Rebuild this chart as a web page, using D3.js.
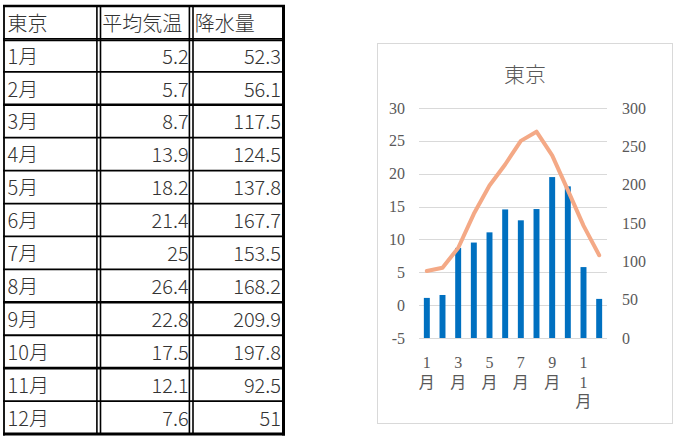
<!DOCTYPE html>
<html>
<head>
<meta charset="utf-8">
<script src="https://cdn.jsdelivr.net/npm/d3@7"></script>
<style>
  html, body { margin: 0; padding: 0; background: #fff; }
  svg { display: block; }
</style>
</head>
<body>
<div id="container"></div>
<script>
/* DATA */
const tableHeader = ["東京", "平均気温", "降水量"];
const months = ["1月", "2月", "3月", "4月", "5月", "6月", "7月", "8月", "9月", "10月", "11月", "12月"];
const temps = [5.2, 5.7, 8.7, 13.9, 18.2, 21.4, 25, 26.4, 22.8, 17.5, 12.1, 7.6];
const rain = [52.3, 56.1, 117.5, 124.5, 137.8, 167.7, 153.5, 168.2, 209.9, 197.8, 92.5, 51];
const tempTicks = [-5, 0, 5, 10, 15, 20, 25, 30];
const rainTicks = [0, 50, 100, 150, 200, 250, 300];
const chartTitle = "東京";

/* CONSTANTS */
const width = 678, height = 441;
const tableFont = "'Noto Sans CJK JP', 'Noto Sans', sans-serif";
const chartFont = "'Liberation Serif', 'Noto Sans CJK JP', serif";
const grey = "#595959";

const svg = d3.select("#container")
  .append("svg")
  .attr("width", width)
  .attr("height", height);

svg.append("rect")
  .attr("width", width)
  .attr("height", height)
  .attr("fill", "#fff");

/* TABLE */
const rows = [tableHeader].concat(months.map((m, i) => [m, String(temps[i]), String(rain[i])]));

const rowY = d3.scaleLinear().domain([0, rows.length]).range([6, 434]);
const colX = [4, 98.7, 191.2, 283.5];
const thickRows = [0, 3, 9, 11];

const table = svg.append("g").attr("class", "table");

// horizontal rules
table.selectAll(".hline")
  .data(d3.range(rows.length + 1))
  .join("line")
  .attr("class", "hline")
  .attr("x1", colX[0] - 1)
  .attr("x2", colX[3] + 1.5)
  .attr("y1", d => rowY(d))
  .attr("y2", d => rowY(d))
  .attr("stroke", "#000")
  .attr("stroke-width", d => d === rows.length ? 3 : (thickRows.includes(d) ? 2.6 : 1.8));

// header double rule
table.append("line")
  .attr("x1", colX[0] - 1).attr("x2", colX[3] + 1.5)
  .attr("y1", rowY(1) + 1.6).attr("y2", rowY(1) + 1.6)
  .attr("stroke", "#000").attr("stroke-width", 1.4);

// outer left and right borders
table.append("line")
  .attr("x1", colX[0]).attr("x2", colX[0])
  .attr("y1", rowY(0)).attr("y2", rowY(rows.length) + 1.5)
  .attr("stroke", "#000").attr("stroke-width", 1.8);

table.append("line")
  .attr("x1", colX[3]).attr("x2", colX[3])
  .attr("y1", rowY(0)).attr("y2", rowY(rows.length) + 1.5)
  .attr("stroke", "#000").attr("stroke-width", 3);

// double column dividers
[colX[1], colX[2]].forEach(x => {
  [-1.8, 1.8].forEach(off => {
    table.append("line")
      .attr("x1", x + off).attr("x2", x + off)
      .attr("y1", rowY(0)).attr("y2", rowY(rows.length))
      .attr("stroke", "#000").attr("stroke-width", 1.6);
  });
});

// cell text
rows.forEach((r, i) => {
  const yMid = (rowY(i) + rowY(i + 1)) / 2 + 1;
  r.forEach((cell, j) => {
    const numeric = i > 0 && j > 0;
    table.append("text")
      .attr("x", numeric ? colX[j + 1] - 2.5 : colX[j] + 3.5)
      .attr("y", yMid)
      .attr("dy", "0.36em")
      .attr("text-anchor", numeric ? "end" : "start")
      .attr("font-family", tableFont)
      .attr("font-size", 20)
      .attr("font-weight", 300)
      .attr("fill", "#333")
      .text(cell);
  });
});

/* CHART */
const box = { x: 377.5, y: 43.5, w: 295, h: 380 };
const plot = { left: 419, right: 607, top: 108, bottom: 338 };

svg.append("rect")
  .attr("x", box.x).attr("y", box.y)
  .attr("width", box.w).attr("height", box.h)
  .attr("fill", "#fff")
  .attr("stroke", "#d9d9d9");

svg.append("text")
  .attr("x", box.x + box.w / 2)
  .attr("y", 82)
  .attr("text-anchor", "middle")
  .attr("font-family", tableFont)
  .attr("font-size", 21)
  .attr("font-weight", 300)
  .attr("fill", grey)
  .text(chartTitle);

const xScale = d3.scaleBand()
  .domain(months)
  .range([plot.left, plot.right])
  .padding(0);

const yTemp = d3.scaleLinear()
  .domain([d3.min(tempTicks), d3.max(tempTicks)])
  .range([plot.bottom, plot.top]);

const yRain = d3.scaleLinear()
  .domain([d3.min(rainTicks), d3.max(rainTicks)])
  .range([plot.bottom, plot.top]);

// gridlines
svg.append("g")
  .selectAll("line")
  .data(tempTicks)
  .join("line")
  .attr("x1", plot.left).attr("x2", plot.right)
  .attr("y1", d => Math.round(yTemp(d)) + 0.5)
  .attr("y2", d => Math.round(yTemp(d)) + 0.5)
  .attr("stroke", "#d9d9d9")
  .attr("stroke-width", 1);

// axes (labels only), plain hyphen for negatives like the original
const plainFormat = d => String(d);

const leftAxis = svg.append("g")
  .attr("transform", `translate(${plot.left}, 0)`)
  .call(d3.axisLeft(yTemp).tickValues(tempTicks).tickFormat(plainFormat).tickSize(0).tickPadding(14));

const rightAxis = svg.append("g")
  .attr("transform", `translate(${plot.right}, 0)`)
  .call(d3.axisRight(yRain).tickValues(rainTicks).tickFormat(plainFormat).tickSize(0).tickPadding(15));

[leftAxis, rightAxis].forEach(g => {
  g.attr("font-family", chartFont).attr("font-size", 16);
  g.select(".domain").remove();
  g.selectAll("text").attr("fill", grey);
});

// precipitation bars
const barW = xScale.bandwidth() * 0.38;
svg.append("g")
  .selectAll("rect")
  .data(rain)
  .join("rect")
  .attr("x", (d, i) => xScale(months[i]) + xScale.bandwidth() / 2 - barW / 2)
  .attr("y", d => yRain(d))
  .attr("width", barW)
  .attr("height", d => yRain(0) - yRain(d))
  .attr("fill", "#0070C0");

// temperature line
const lineGen = d3.line()
  .x((d, i) => xScale(months[i]) + xScale.bandwidth() / 2)
  .y(d => yTemp(d));

svg.append("path")
  .datum(temps)
  .attr("d", lineGen)
  .attr("fill", "none")
  .attr("stroke", "#F4A986")
  .attr("stroke-width", 4)
  .attr("stroke-linejoin", "round")
  .attr("stroke-linecap", "round");

// category labels, stacked vertically, every other month
const xLabels = svg.append("g");
months.forEach((m, i) => {
  if (i % 2 !== 0) return;
  const t = xLabels.append("text")
    .attr("x", xScale(m) + xScale.bandwidth() / 2)
    .attr("y", 368)
    .attr("text-anchor", "middle")
    .attr("font-family", chartFont)
    .attr("font-size", 16)
    .attr("fill", grey);
  Array.from(m).forEach((ch, k) => {
    t.append("tspan")
      .attr("x", xScale(m) + xScale.bandwidth() / 2)
      .attr("dy", k === 0 ? 0 : 19.5)
      .text(ch);
  });
});
</script>
</body>
</html>
